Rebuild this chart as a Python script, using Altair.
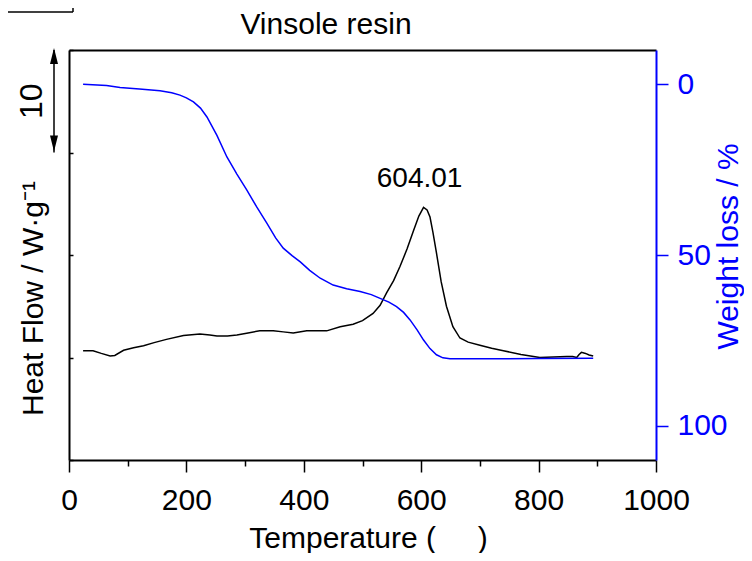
import altair as alt
import pandas as pd

# ---------------- data ----------------
dsc_temp = [24, 41, 55, 70, 78, 93, 110, 127, 145, 166, 195, 223, 240, 252, 270, 286,
            305, 325, 348, 365, 382, 405, 439, 462, 484, 500, 518, 530, 541, 553, 564,
            576, 587, 596, 604, 610, 615, 620, 626, 634, 643, 654, 666, 680, 700, 720,
            740, 770, 802, 825, 848, 858, 865, 869, 873, 880, 886, 893]
dsc_heat = [10.66, 10.66, 10.4, 10.15, 10.2, 10.7, 10.95, 11.15, 11.45, 11.77, 12.15, 12.3,
            12.2, 12.1, 12.1, 12.2, 12.4, 12.6, 12.6, 12.5, 12.4, 12.6, 12.6, 13.0, 13.25,
            13.6, 14.3, 15.1, 16.3, 17.5, 18.9, 20.6, 22.4, 23.8, 24.65, 24.4, 23.7, 22.2,
            20.2, 17.4, 15.0, 13.0, 11.9, 11.5, 11.2, 10.9, 10.66, 10.3, 10.0, 10.05, 10.1,
            10.1, 10.0, 10.3, 10.5, 10.4, 10.25, 10.15]

tga_temp = [24, 64, 87, 120, 155, 175, 189, 200, 212, 224, 235, 252, 269, 286, 303, 320,
            337, 352, 365, 380, 394, 410, 428, 450, 473, 496, 515, 530, 545, 558, 570, 581,
            593, 604, 615, 626, 637, 649, 700, 800, 893]
tga_loss = [0, 0.4, 1.0, 1.4, 1.95, 2.5, 3.2, 4.0, 5.2, 7.0, 9.6, 15.0, 21.3, 26.3, 31.0,
            36.0, 40.7, 45.0, 48.0, 50.2, 52.0, 54.5, 56.8, 58.8, 59.9, 60.7, 61.6, 62.7,
            63.8, 65.1, 66.8, 69.0, 71.9, 74.9, 77.4, 79.2, 80.1, 80.4, 80.4, 80.3, 80.2]

x_ticks = [0, 100, 200, 300, 400, 500, 600, 700, 800, 900, 1000]
heat_ticks = [0, 10, 20, 30, 40]
loss_ticks = [0, 50, 100]

peak_temp = [604.01]
peak_heat = [24.65]
peak_label = ["604.01"]

bar_low = [30]
bar_high = [40]
bar_mid = [35]
bar_label = ["10"]

title_text = ["Vinsole resin"]

FONT = "'Liberation Sans', Arial, sans-serif"
BLUE = "#0000ff"

df_dsc = pd.DataFrame({"T": dsc_temp, "HF": dsc_heat})
df_tga = pd.DataFrame({"T": tga_temp, "WL": tga_loss})
df_peak = pd.DataFrame({"T": peak_temp, "HF": peak_heat, "label": peak_label})
df_bar = pd.DataFrame({"lo": bar_low, "hi": bar_high, "mid": bar_mid, "label": bar_label})
df_title = pd.DataFrame({"label": title_text})
df_one = pd.DataFrame({"a": [0]})

x_scale = alt.Scale(domain=[0, 1000], nice=False, zero=False)
x_axis = alt.Axis(
    values=x_ticks,
    labelExpr="datum.value % 200 === 0 ? '' + datum.value : ''",
    tickSize={"condition": {"test": "datum.value % 200 === 0", "value": 12}, "value": 6},
    tickWidth=1.5, tickColor="black", domainColor="black", domainWidth=2,
    labelFontSize=30, labelPadding=13, labelFlush=False, labelOverlap=False,
    labelColor="black",
    title="Temperature (\u00a0\u00a0\u00a0\u00a0\u00a0)", titleFontSize=30,
    titleX=299, titleY=87, titleAlign="center", titleBaseline="alphabetic",
    titleColor="black",
)
x_top_axis = alt.Axis(orient="top", labels=False, ticks=False, domainColor="black",
                      domainWidth=2, title=None)

hf_scale = alt.Scale(domain=[0, 40], nice=False, zero=False)
hf_axis = alt.Axis(
    values=heat_ticks, labels=False, tickSize={"expr": "-4"}, tickWidth=1.5,
    tickColor="black", domainColor="black", domainWidth=2,
    title="Heat Flow / W\u00b7g\u207b\u00b9", titleFontSize=30, titleColor="black",
    titleAngle=270, titleX=-27, titleY=248, titleAlign="center",
    titleBaseline="alphabetic",
)

wl_scale = alt.Scale(domain=[-10, 110], reverse=True, nice=False, zero=False)
wl_axis = alt.Axis(
    orient="right", values=loss_ticks, tickSize=12, tickWidth=1.5, tickColor=BLUE,
    domainColor=BLUE, domainWidth=2, labelColor=BLUE, labelFontSize=30,
    labelPadding=9, title="Weight loss / %", titleColor=BLUE, titleFontSize=30,
    titleAngle=270, titleX=81, titleY=196, titleAlign="center",
    titleBaseline="alphabetic",
)

X = alt.X("T:Q", scale=x_scale, axis=x_axis)

hf_line = alt.Chart(df_dsc).mark_line(color="black", strokeWidth=1.5).encode(
    x=X, y=alt.Y("HF:Q", scale=hf_scale, axis=hf_axis)
)

peak_text = alt.Chart(df_peak).mark_text(
    font=FONT, fontSize=28, color="black", baseline="alphabetic", align="center",
    dy=-20, dx=-4
).encode(x=X, y=alt.Y("HF:Q", scale=hf_scale, axis=hf_axis), text="label:N")

bar_rule = alt.Chart(df_bar).mark_rule(color="black", strokeWidth=1.5).encode(
    x=alt.value(-15), y=alt.Y("lo:Q", scale=hf_scale, axis=hf_axis), y2="hi:Q"
)
bar_up = alt.Chart(df_bar).mark_point(
    shape="M0,-1L0.5,1L-0.5,1Z", filled=True, color="black", opacity=1, size=256,
    yOffset=6
).encode(x=alt.value(-15), y=alt.Y("hi:Q", scale=hf_scale, axis=hf_axis))
bar_down = alt.Chart(df_bar).mark_point(
    shape="M0,1L0.5,-1L-0.5,-1Z", filled=True, color="black", opacity=1, size=256,
    yOffset=-9
).encode(x=alt.value(-15), y=alt.Y("lo:Q", scale=hf_scale, axis=hf_axis))
bar_text = alt.Chart(df_bar).mark_text(
    font=FONT, fontSize=32, color="black", angle=270, align="center",
    baseline="alphabetic"
).encode(x=alt.value(-27), y=alt.Y("mid:Q", scale=hf_scale, axis=hf_axis),
         text="label:N")

# chart title drawn as text above the plot frame
title_mark = alt.Chart(df_title).mark_text(
    font=FONT, fontSize=30, color="black", align="center", baseline="alphabetic"
).encode(x=alt.value(257), y=alt.value(-16), text="label:N")

corner_h = alt.Chart(df_one).mark_rule(color="black", strokeWidth=1.5).encode(
    x=alt.value(-70), x2=alt.value(4), y=alt.value(-38)
)
corner_v = alt.Chart(df_one).mark_rule(color="black", strokeWidth=1.5).encode(
    x=alt.value(4), y=alt.value(-42), y2=alt.value(-38)
)

hf_group = alt.layer(hf_line, peak_text, bar_rule, bar_up, bar_down, bar_text,
                     title_mark, corner_h, corner_v)

wl_line = alt.Chart(df_tga).mark_line(color=BLUE, strokeWidth=1.5).encode(
    x=alt.X("T:Q", scale=x_scale, axis=x_top_axis),
    y=alt.Y("WL:Q", scale=wl_scale, axis=wl_axis),
)

chart = alt.layer(hf_group, wl_line).resolve_scale(y="independent").resolve_axis(
    x="independent", y="independent"
).properties(
    width=587, height=410,
    autosize=alt.AutoSizeParams(type="none"),
    padding={"left": 61, "top": 42, "right": 88, "bottom": 93},
).configure_view(stroke=None).configure_axis(
    grid=False, labelFont=FONT, titleFont=FONT, titleFontWeight="normal",
    labelFontWeight="normal"
)

chart.save("out.html", embed_options={"renderer": "svg", "actions": False})
